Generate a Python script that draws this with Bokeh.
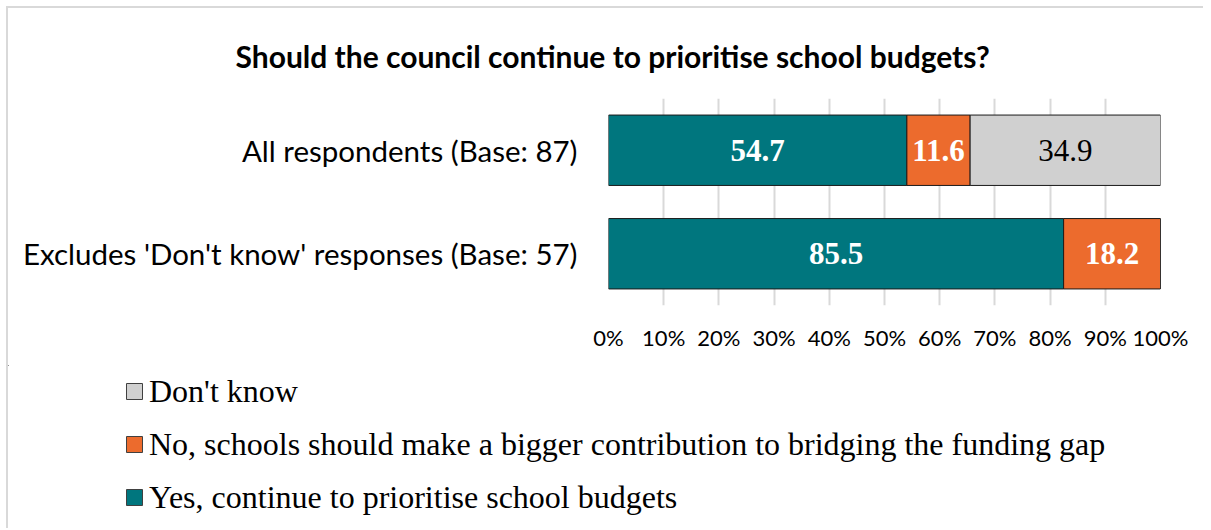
from bokeh.plotting import figure
from bokeh.layouts import column, row
from bokeh.models import (ColumnDataSource, FactorRange, FixedTicker, NumeralTickFormatter,
                          Legend, LegendItem, Title)
from bokeh.core.properties import value
from bokeh.embed import file_html
from bokeh.resources import INLINE

title = "Should the council continue to prioritise school budgets?"
categories = ["All respondents (Base: 87)", "Excludes 'Don't know' responses (Base: 57)"]
yes_vals = [54.7, 85.5]
no_vals = [11.6, 18.2]
dk_vals = [34.9, 0.0]
series_names = ["Yes, continue to prioritise school budgets",
                "No, schools should make a bigger contribution to bridging the funding gap",
                "Don't know"]
colors = ["#00767e", "#ec6b2d", "#d0d0d0"]
label_colors = ["white", "white", "black"]
label_styles = ["bold", "bold", "normal"]
tick_values = [0, 0.1, 0.2, 0.3, 0.4, 0.5, 0.6, 0.7, 0.8, 0.9, 1.0]

totals = [a + b + c for a, b, c in zip(yes_vals, no_vals, dk_vals)]
series = [yes_vals, no_vals, dk_vals]

W = 1195
p = figure(width=W, height=357, output_backend="svg", toolbar_location=None,
           y_range=FactorRange(factors=list(reversed(categories))),
           x_range=(0, 1))
p.min_border_left = 600
p.min_border_right = 43
p.min_border_top = 90
p.min_border_bottom = 60
p.outline_line_color = None
p.background_fill_color = "white"
p.border_fill_color = "white"

left = [0.0] * len(categories)
for name, vals, col, lc, ls in zip(series_names, series, colors, label_colors, label_styles):
    shares = [v / t for v, t in zip(vals, totals)]
    right = [l + s for l, s in zip(left, shares)]
    src = ColumnDataSource(dict(y=categories, left=left, right=right))
    p.hbar(y="y", left="left", right="right", height=0.68, source=src,
           fill_color=col, line_color="#1a1a1a", line_width=1)
    lab_y = [c for c, v in zip(categories, vals) if v > 0]
    lab_x = [(l + rr) / 2 for l, rr, v in zip(left, right, vals) if v > 0]
    lab_t = ["%.1f" % v for v in vals if v > 0]
    lsrc = ColumnDataSource(dict(x=lab_x, y=lab_y, t=lab_t))
    p.text(x="x", y="y", text="t", source=lsrc, text_align="center", text_baseline="middle",
           text_color=lc, text_font=value("Liberation Serif"), text_font_size="31px",
           text_font_style=ls)
    left = right

p.xaxis.ticker = FixedTicker(ticks=tick_values)
p.xaxis.formatter = NumeralTickFormatter(format="0%")
p.xaxis.axis_line_color = None
p.xaxis.major_tick_line_color = None
p.xaxis.minor_tick_line_color = None
p.xaxis.major_label_text_font = "Lato"
p.xaxis.major_label_text_font_size = "22px"
p.xaxis.major_label_text_color = "#000000"
p.xaxis.major_label_standoff = 12

p.yaxis.axis_line_color = None
p.yaxis.major_tick_line_color = None
p.yaxis.minor_tick_line_color = None
p.yaxis.major_label_text_font = "Lato"
p.yaxis.major_label_text_font_size = "29.5px"
p.yaxis.major_label_text_color = "#000000"
p.yaxis.major_label_standoff = 25

p.xgrid.grid_line_color = "#d9d9d9"
p.xgrid.grid_line_width = 2
p.ygrid.grid_line_color = None

t = Title(text=title, align="left", offset=-373, standoff=46, vertical_align="top",
          text_font="Lato", text_font_size="30px", text_font_style="bold", text_color="black")
p.add_layout(t, "above")

# legend figure
edge = "2px solid #d9d9d9"
lg = figure(width=W, height=163, output_backend="svg", toolbar_location=None,
            x_axis_location=None, y_axis_location=None, x_range=(0, 1), y_range=(0, 1),
            min_border_left=0, min_border_right=0, min_border_top=0, min_border_bottom=0,
            styles={"border-left": edge})
lg.outline_line_color = None
lg.grid.grid_line_color = None
items = []
for i in [2, 1, 0]:
    r = lg.hbar(y=[5], left=[0], right=[0], height=0.5, fill_color=colors[i],
                line_color="#404040", line_width=1)
    items.append(LegendItem(label=series_names[i], renderers=[r]))
legend = Legend(items=items, location=(116, 11), orientation="vertical",
                glyph_width=20, glyph_height=20, label_height=40, spacing=13,
                padding=0, margin=0, label_standoff=5,
                label_text_font="Liberation Serif", label_text_font_size="32px",
                label_text_color="black", border_line_color=None,
                background_fill_alpha=0)
lg.add_layout(legend, "center")

layout = column(column(p, styles={"border-left": edge}),
                row(lg),
                spacing=0, margin=(6, 0, 0, 6), styles={"border-top": edge})

open("out.html", "w").write(file_html(layout, INLINE))
